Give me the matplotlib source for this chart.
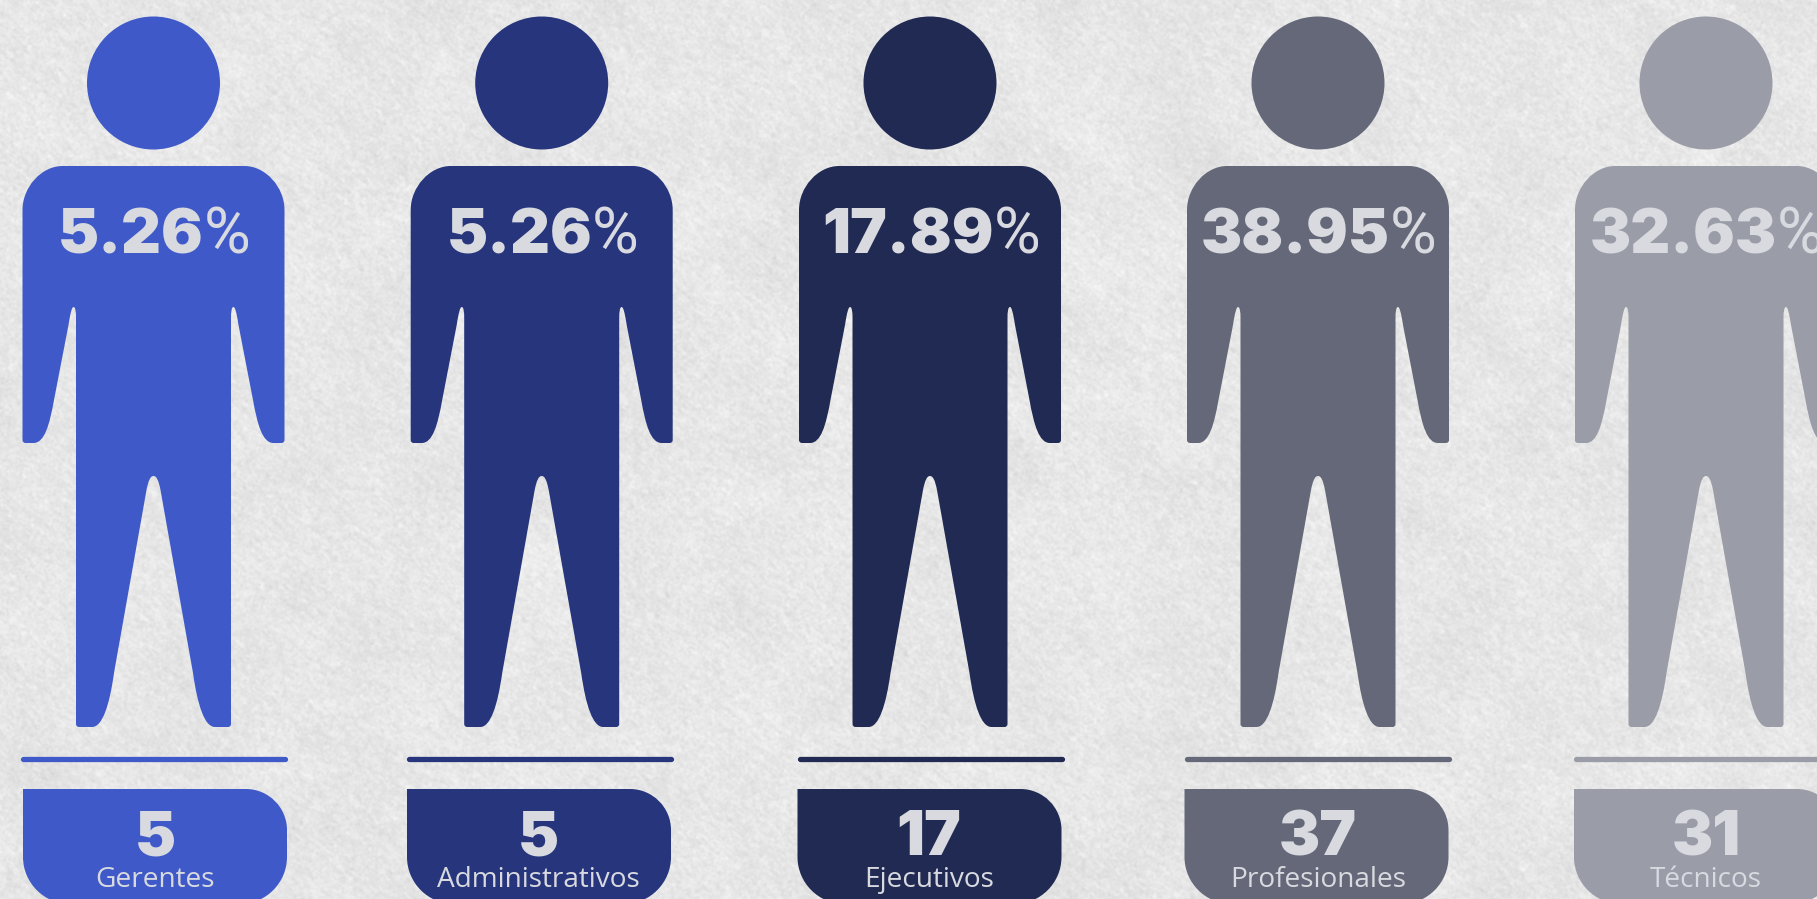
import numpy as np
import matplotlib
matplotlib.use("Agg")
import matplotlib.pyplot as plt
from matplotlib.path import Path
from matplotlib.patches import PathPatch, Circle

W, H = 1817, 899

# ---- data ----
categories = ["Gerentes", "Administrativos", "Ejecutivos", "Profesionales", "Técnicos"]
counts = [5, 5, 17, 37, 31]
percents = [5.26, 5.26, 17.89, 38.95, 32.63]
colors = ["#3f5ac8", "#26357c", "#212a52", "#656878", "#9a9ca8"]

# ---- layout ----
figure_centers = [153.5, 541.7, 930.0, 1318.0, 1706.0]
pill_lefts = [23, 407, 797.5, 1184.5, 1574]
line_lefts = [20, 406.5, 797.5, 1184, 1573.5]
text_centers = [155, 538, 929, 1318, 1706]
text_color = "#d8dae0"
DIGIT_FONT = dict(family=["Inter", "DejaVu Sans"], weight=900, size=44.5)
PCT_FONT = dict(family=["Roboto", "DejaVu Sans"], weight="regular", size=46)
LABEL_FONT = dict(family=["Open Sans", "DejaVu Sans"], size=20.2)


def body_path(cx):
    """Pictogram body outline, right half mirrored to the left."""
    v = [(0, 166), (91, 166), (112, 166), (131, 187), (131, 210), (131, 440),
         (131, 443), (128, 443), (120, 443), (109, 443), (104, 425), (99.5, 400),
         (85, 325), (83, 312), (81.5, 307), (80, 307), (78, 307), (77.5, 312), (77.5, 318),
         (77.5, 724), (77.5, 727), (74.5, 727), (61.5, 727), (51, 727), (44, 705), (39.5, 673),
         (7, 490), (5, 480), (3, 476), (0, 476)]
    L, C3, C4 = Path.LINETO, Path.CURVE3, Path.CURVE4
    c = [Path.MOVETO, L, C4, C4, C4, L, C3, C3, L, C4, C4, C4, L, C4, C4, C4, C4, C4, C4,
         L, C3, C3, L, C4, C4, C4, L, C4, C4, C4]
    mv = [(-x, y) for x, y in reversed(v[:-1])]
    mc = list(reversed(c[1:]))
    verts = [(cx + x, y) for x, y in v + mv]
    return Path(verts, c + mc)


def pill_path(x0, y0=789, w=264, y1=904, rt=41, rb=47):
    L, C4 = Path.LINETO, Path.CURVE4
    k = 0.45
    x1 = x0 + w
    verts = [(x0, y0), (x1 - rt, y0), (x1 - rt * k, y0), (x1, y0 + rt * k), (x1, y0 + rt),
             (x1, y1 - rb), (x1, y1 - rb * k), (x1 - rb * k, y1), (x1 - rb, y1),
             (x0 + rb, y1), (x0 + rb * k, y1), (x0, y1 - rb * k), (x0, y1 - rb), (x0, y0)]
    codes = [Path.MOVETO, L, C4, C4, C4, L, C4, C4, C4, L, C4, C4, C4, Path.CLOSEPOLY]
    return Path(verts, codes)


def paper_texture(h, w):
    """Decorative paper grain (background only, not data)."""
    rng = np.random.default_rng(7)
    fy = np.fft.fftfreq(h)[:, None]
    fx = np.fft.rfftfreq(w)[None, :]
    def blurred(sx, sy, noise):
        F = np.fft.rfft2(noise)
        u = fx * np.cos(0.7) + fy * np.sin(0.7)
        t = -fx * np.sin(0.7) + fy * np.cos(0.7)
        G = np.exp(-2 * np.pi ** 2 * ((u * sx) ** 2 + (t * sy) ** 2))
        out = np.fft.irfft2(F * G, s=(h, w))
        return out / out.std()
    fine = blurred(1.0, 1.0, rng.standard_normal((h, w)))
    fibre = blurred(3.0, 1.2, rng.standard_normal((h, w)))
    coarse = blurred(22, 16, rng.standard_normal((h, w)))
    return np.clip(230 + 2.6 * fine + 2.0 * fibre + 1.6 * coarse, 190, 250) / 255


fig = plt.figure(figsize=(W / 100, H / 100), dpi=100)
ax = fig.add_axes([0, 0, 1, 1])
ax.set_xlim(0, W)
ax.set_ylim(H, 0)
ax.axis("off")
ax.imshow(paper_texture(H, W), cmap="gray", vmin=0, vmax=1, extent=(0, W, H, 0), aspect="auto", zorder=0)

renderer = fig.canvas.get_renderer()
for i, name in enumerate(categories):
    col = colors[i]
    cx = figure_centers[i]
    ax.add_patch(Circle((cx, 83), 66.5, fc=col, ec="none", zorder=2))
    ax.add_patch(PathPatch(body_path(cx), fc=col, ec="none", zorder=2))
    ax.plot([line_lefts[i] + 2.5, line_lefts[i] + 264.5], [759, 759], color=col, lw=3.8,
            solid_capstyle="round", zorder=2)
    ax.add_patch(PathPatch(pill_path(pill_lefts[i]), fc=col, ec="none", zorder=2))

    # percentage: heavy digits with a lighter % sign
    digits = ax.text(0, 253, f"{percents[i]:.2f}", color=text_color, ha="left", va="baseline", zorder=3, **DIGIT_FONT)
    pct = ax.text(0, 253, "%", color=text_color, ha="left", va="baseline", zorder=3, **PCT_FONT)
    wd = digits.get_window_extent(renderer).width
    wp = pct.get_window_extent(renderer).width
    start = cx + 1 - (wd + wp) / 2
    digits.set_x(start)
    pct.set_x(start + wd)

    ax.text(text_centers[i], 855, str(counts[i]), color=text_color, ha="center", va="baseline", zorder=3, **DIGIT_FONT)
    ax.text(text_centers[i], 887, name, color=text_color, ha="center", va="baseline", zorder=3, **LABEL_FONT)

fig.savefig("out.png", dpi=100)
